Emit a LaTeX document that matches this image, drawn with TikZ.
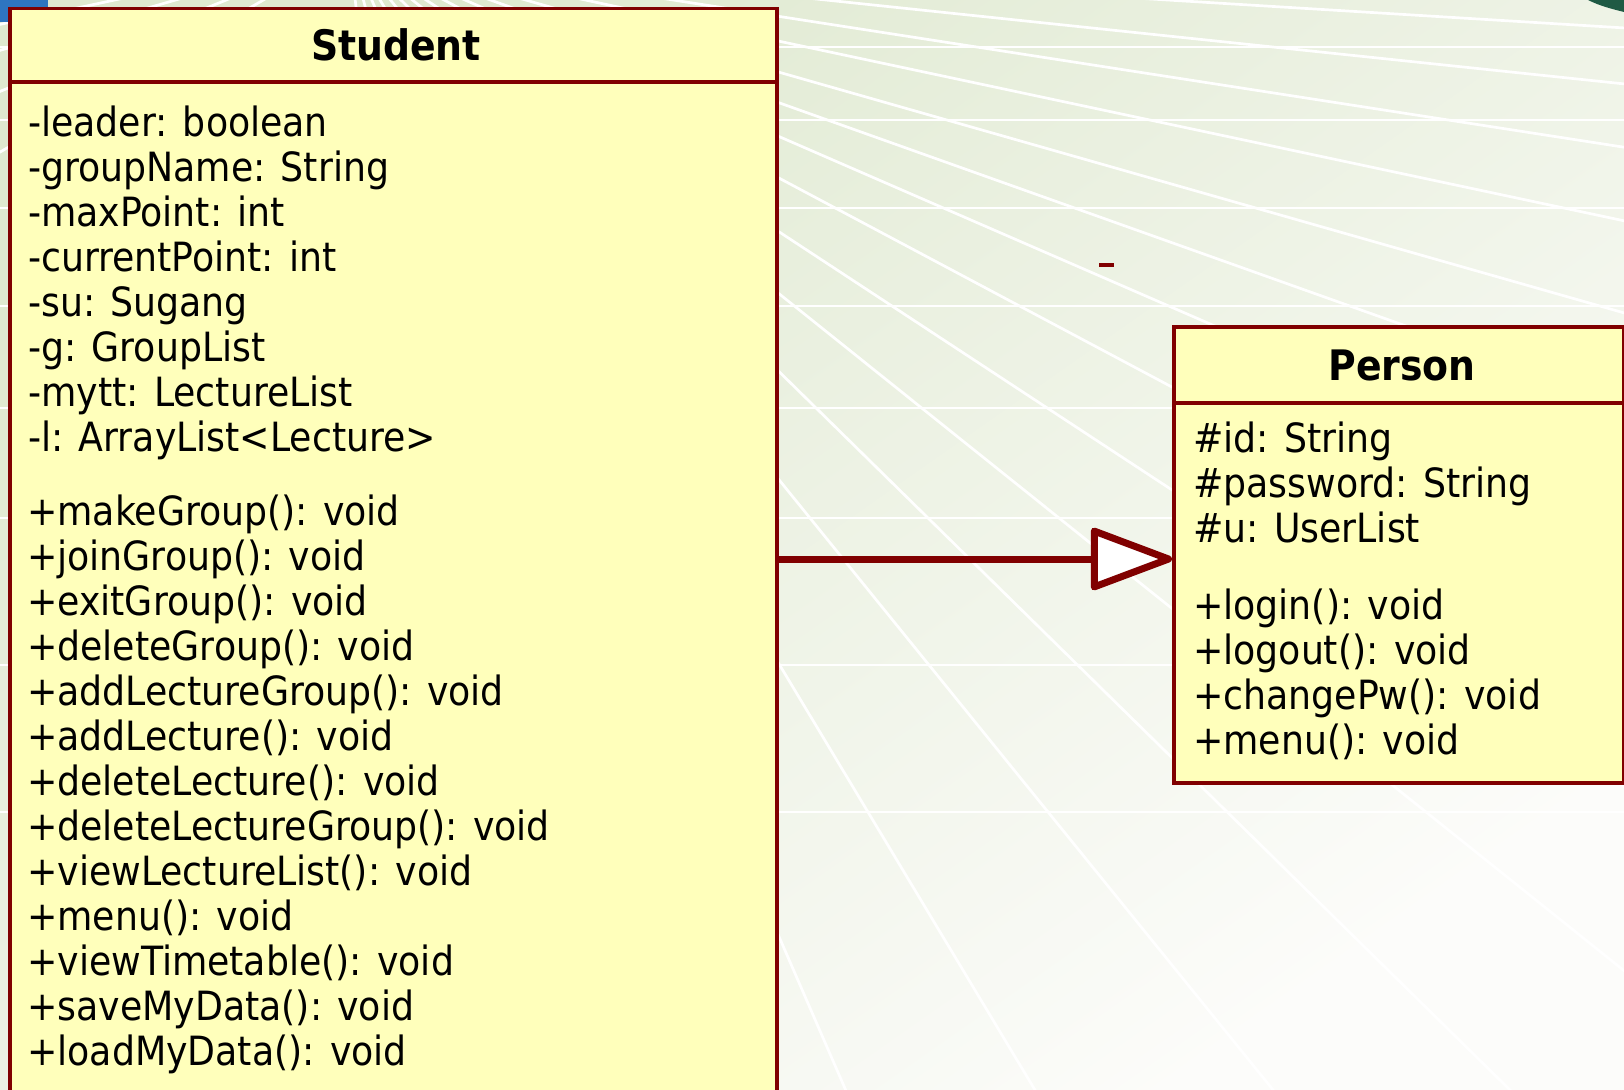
\documentclass[tikz,border=0pt]{standalone}
\usepackage{fontspec}
\setmainfont{DejaVu Sans Condensed}
\usetikzlibrary{arrows.meta}
\definecolor{umlred}{HTML}{800000}
\definecolor{umlfill}{HTML}{FFFFBB}
\definecolor{bgtop}{HTML}{DFE9D0}
\definecolor{bgbot}{HTML}{FCFCFA}
\definecolor{cornerblue}{HTML}{2E75C0}
\definecolor{cornergreen}{HTML}{1F5A44}
\begin{document}
\begin{tikzpicture}[x=1pt, y=-1pt,
  classbox/.style={draw=umlred, fill=umlfill, line width=3.5pt, rectangle, inner sep=0pt, anchor=north west},
  member/.style={inner sep=0pt, anchor=base west, font=\fontsize{40.3}{45}\selectfont},
  classtitle/.style={inner sep=0pt, anchor=base, font=\fontsize{42}{45}\selectfont\bfseries},
  gridline/.style={white, line width=2.7pt},
  sep/.style={umlred, line width=3.5pt},
]
\useasboundingbox (0,0) rectangle (1624,1089);
\clip (0,0) rectangle (1624,1089);
% background
\shade[top color=bgtop, bottom color=bgbot, shading angle=35] (0,0) rectangle (1624,1089);
\coordinate (vp) at (350,-50);
\foreach \a in {3.5,6,8.8,12,15.9,19.6,23.5,28,33.3,38.7,44.5,51,59,66.5,75,84,150,158,164,168,172,176}
  \draw[gridline] (vp) -- ++(\a:2600);
\foreach \y in {47,120,208,306,408,518,665,812}
  \draw[gridline] (0,\y) -- (1624,\y);
\fill[cornerblue] (0,0) rectangle (48,22);
\fill[cornergreen] (1588,0) .. controls (1600,6) and (1612,9) .. (1624,12) -- (1624,0) -- cycle;
% classes
\node[classbox, minimum width=767pt, minimum height=1200pt] (student) at (8,7) {};
\node[classbox, minimum width=450pt, minimum height=456pt] (person) at (1172,325) {};
\draw[sep] (8,82) -- (779,82);
\draw[sep] (1172,403) -- (1622,403);
\node[classtitle] (studentname) at (396,61) {Student};
\node[classtitle] (personname) at (1402,380) {Person};
\foreach [count=\i] \t in {-leader: boolean,-groupName: String,-maxPoint: int,-currentPoint: int,-su: Sugang,-g: GroupList,-mytt: LectureList,-l: ArrayList<Lecture>}
  \node[member] (sattr\i) at (28,{136.5+45*(\i-1)}) {\t};
\foreach [count=\i] \t in {+makeGroup(): void,+joinGroup(): void,+exitGroup(): void,+deleteGroup(): void,+addLectureGroup(): void,+addLecture(): void,+deleteLecture(): void,+deleteLectureGroup(): void,+viewLectureList(): void,+menu(): void,+viewTimetable(): void,+saveMyData(): void,+loadMyData(): void}
  \node[member] (sop\i) at (27,{525.5+45*(\i-1)}) {\t};
\foreach [count=\i] \t in {\#id: String,\#password: String,\#u: UserList}
  \node[member] (pattr\i) at (1193,{452.5+45*(\i-1)}) {\t};
\foreach [count=\i] \t in {+login(): void,+logout(): void,+changePw(): void,+menu(): void}
  \node[member] (pop\i) at (1193,{619.5+45*(\i-1)}) {\t};
% generalization
\coordinate (ay) at (0,559);
\draw[umlred, line width=7pt, -{Triangle[length=88pt,width=64pt,fill=white,round]}] (student.east |- ay) -- (person.west |- ay);
\fill[umlred] (1099,263) rectangle (1114,267);
\end{tikzpicture}
\end{document}
